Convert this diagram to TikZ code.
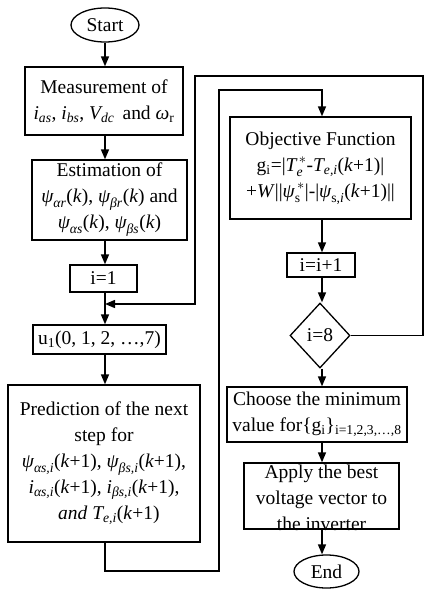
\documentclass[tikz,border=0pt]{standalone}
\usepackage{amsmath}
\usepackage{fontspec}
\setmainfont{Liberation Serif}
\usetikzlibrary{shapes.geometric,arrows.meta}
\newcommand{\vi}[1]{\textit{#1}}
\begin{document}
\begin{tikzpicture}[x=1pt,y=-1pt,
  every node/.style={font=\fontsize{19.5}{26}\selectfont},
  box/.style={draw,line width=1.3pt,inner sep=0pt,align=center},
  ln/.style={line width=1.4pt},
  arr/.style={ln,-{Triangle[length=10pt,width=8pt]}}]
\useasboundingbox (0,0) rectangle (424,590);
\fill[white] (0,0) rectangle (424,590);
\coordinate (colL) at (105,0);
\coordinate (colR) at (322,0);
% left column
\node[box,ellipse,minimum width=68pt,minimum height=34pt] (start) at (105,25) {Start};
\node[box,minimum width=158pt,minimum height=68pt] (meas) at (104,101)
  {Measurement of\\ $\vi{i}_{\vi{as}}$, $\vi{i}_{\vi{bs}}$, $\vi{V}_{\vi{dc}}$\, and $\vi{ω}_{\text{r}}$};
\node[box,minimum width=155pt,minimum height=80pt] (est) at (109.5,200)
  {Estimation of\\ $\vi{ψ}_{\vi{αr}}$(\vi{k}), $\vi{ψ}_{\vi{βr}}$(\vi{k}) and\\ $\vi{ψ}_{\vi{αs}}$(\vi{k}), $\vi{ψ}_{\vi{βs}}$(\vi{k})};
\node[box,minimum width=67pt,minimum height=27pt] (i1) at (103.5,278.5) {i=1};
\node[box,minimum width=133pt,minimum height=29pt] (u1) at (99.5,339.5) {u\textsubscript{1}(0, 1, 2, …,7)};
\node[box,minimum width=192pt,minimum height=157pt] (pred) at (104,463.5)
  {Prediction of the next\\ step for\\
   $\vi{ψ}_{\vi{αs,i}}$(\vi{k}+1), $\vi{ψ}_{\vi{βs,i}}$(\vi{k}+1),\\
   $\vi{i}_{\vi{αs,i}}$(\vi{k}+1), $\vi{i}_{\vi{βs,i}}$(\vi{k}+1),\\
   \ \ \vi{and} $\vi{T}_{\vi{e,i}}$(\vi{k}+1)};
% right column
\node[box,minimum width=181pt,minimum height=102pt] (obj) at (320.5,168)
  {Objective Function\\
   g$_{\text{i}}$=|$\vi{T}_{\vi{e}}^{\,*}$-$\vi{T}_{\vi{e,i}}$(\vi{k}+1)|\\
   +\vi{W}||$\vi{ψ}_{\text{s}}^{\,*}$|-|$\vi{ψ}_{\text{s,}\vi{i}}$(\vi{k}+1)||};
\node[box,minimum width=68pt,minimum height=24pt] (inc) at (321,265) {i=i+1};
\node[box,diamond,minimum width=60pt,minimum height=65pt] (dia) at (320,335.5) {i=8};
\node[box,minimum width=180pt,minimum height=55pt] (choose) at (317,414.5)
  {Choose the minimum\\ value for\{g$_{\text{i}}$\}$_{\text{i=1,2,3,…,8}}$};
\node[box,minimum width=155pt,minimum height=66pt] (apply) at (321.5,496) {};
\node[inner sep=0pt,align=center] (applytxt) at (321.5,497.5)
  {Apply the best\\ voltage vector to\\ the inverter};
\node[box,ellipse,minimum width=65pt,minimum height=33pt] (end) at (326.5,571.5) {End};
% connectors left
\draw[arr] (colL |- start.south) -- (colL |- meas.north);
\draw[arr] (colL |- meas.south) -- (colL |- est.north);
\draw[arr] (colL |- est.south) -- (colL |- i1.north);
\draw[arr] (colL |- i1.south) -- (colL |- u1.north);
\draw[arr] (colL |- u1.south) -- (colL |- pred.north);
% loop to objective
\coordinate (lpB) at (219,571);
\coordinate (lpT) at (219,90);
\draw[arr] (colL |- pred.south) |- (lpB) -- (lpT) -| (colR |- obj.north);
% connectors right
\draw[arr] (colR |- obj.south) -- (colR |- inc.north);
\draw[arr] (colR |- inc.south) -- (colR |- dia.north);
\draw[arr] (colR |- dia.south) -- (colR |- choose.north);
\draw[arr] (colR |- choose.south) -- (colR |- apply.north);
\draw[arr] (colR |- apply.south) -- (colR |- end.north);
% feedback
\coordinate (fbR) at (423,76);
\coordinate (fbL) at (195,76);
\coordinate (fbJ) at (105,304);
\draw[arr] (dia.east) -| (fbR) -- (fbL) |- (fbJ);
\end{tikzpicture}
\end{document}
